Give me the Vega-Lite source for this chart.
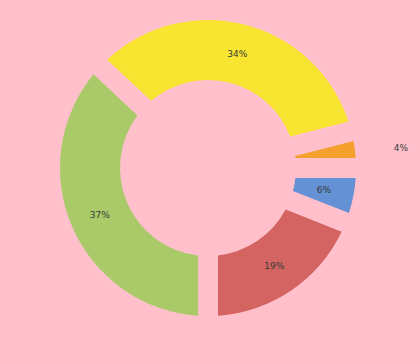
{
  "$schema": "https://vega.github.io/schema/vega-lite/v6.json",
  "width": 416,
  "height": 336,
  "autosize": "none",
  "padding": {"left": 0, "top": 0, "right": 0, "bottom": 2},
  "background": "pink",
  "view": {"stroke": null},
  "data": {
    "values": [
      {"category": "A", "value": 0.37},
      {"category": "B", "value": 0.34},
      {"category": "C", "value": 0.04},
      {"category": "D", "value": 0.06},
      {"category": "E", "value": 0.19}
    ]
  },
  "encoding": {
    "theta": {"field": "value", "type": "quantitative", "stack": true, "scale": {"range": [3.14159265, 9.42477796]}},
    "order": {"field": "category", "type": "nominal", "sort": "ascending"}
  },
  "layer": [
    {
      "mark": {"type": "arc", "outerRadius": 148, "innerRadius": 88, "padAngle": 0.116},
      "encoding": {
        "color": {
          "field": "category", "type": "nominal", "legend": null,
          "scale": {"domain": ["A", "B", "C", "D", "E"], "range": ["#AACA69", "#F8E531", "#F59F2C", "#6391D3", "#D36461"]}
        }
      }
    },
    {
      "mark": {"type": "text", "radius": 118, "font": "DejaVu Sans", "fontSize": 9, "color": "#3a3a3a"},
      "encoding": {
        "text": {"condition": {"test": "datum.category === 'C'", "value": ""}, "field": "value", "type": "quantitative", "format": ".0%"}
      }
    },
    {
      "mark": {"type": "text", "radius": 160, "dx": 27, "align": "left", "baseline": "middle", "font": "DejaVu Sans", "fontSize": 9, "color": "#3a3a3a"},
      "encoding": {
        "text": {"condition": {"test": "datum.category !== 'C'", "value": ""}, "field": "value", "type": "quantitative", "format": ".0%"}
      }
    }
  ]
}
